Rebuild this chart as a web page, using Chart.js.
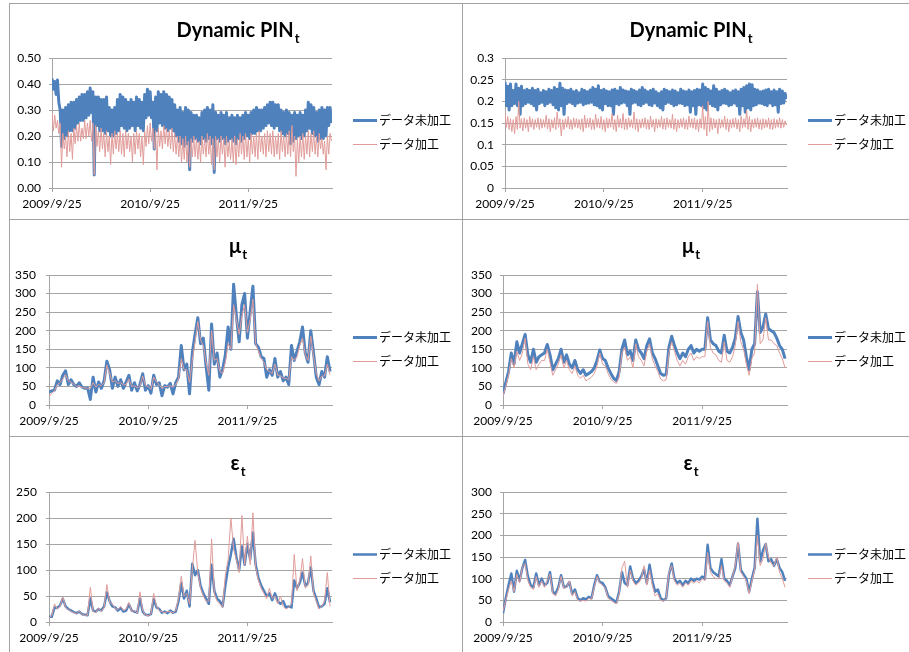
<!DOCTYPE html>
<html>
<head>
<meta charset="utf-8">
<title>Dynamic PIN / μ / ε</title>
<script src="https://cdn.jsdelivr.net/npm/chart.js@4.4.1/dist/chart.umd.min.js"></script>
<style>
  html, body { margin: 0; padding: 0; background: #fff; }
  #page { position: relative; width: 909px; height: 652px; overflow: hidden; background: #fff; }
  #page canvas { position: absolute; }
  .rule { position: absolute; background: #a3a3a3; }
</style>
</head>
<body>
<div id="page">
  <div class="rule" style="left:9px;top:3px;width:900px;height:1px"></div>
  <div class="rule" style="left:9px;top:219px;width:900px;height:1px"></div>
  <div class="rule" style="left:9px;top:436px;width:900px;height:1px"></div>
  <div class="rule" style="left:9px;top:3px;width:1px;height:649px"></div>
  <div class="rule" style="left:462px;top:3px;width:1px;height:649px"></div>
  <canvas id="pinA" width="452" height="215" style="left:10px;top:4px"></canvas>
  <canvas id="pinB" width="446" height="215" style="left:463px;top:4px"></canvas>
  <canvas id="muA"  width="452" height="216" style="left:10px;top:220px"></canvas>
  <canvas id="muB"  width="446" height="216" style="left:463px;top:220px"></canvas>
  <canvas id="epsA" width="452" height="215" style="left:10px;top:437px"></canvas>
  <canvas id="epsB" width="446" height="215" style="left:463px;top:437px"></canvas>
</div>
<script>
// Series names and year tick labels (sample step 0 = 2009/9/25, 36 steps per year)
const seriesNames = ['データ未加工', 'データ加工'];
const yearLabels = ['2009/9/25', '2010/9/25', '2011/9/25'];
const yearSteps = [0, 36, 72];
const lastStep = 102.7;

// Dynamic PIN_t, left model: the daily series swings inside each step,
// so every step keeps its high and its low reading.
const pinRawAHigh = [0.42,0.41,0.415,0.30,0.30,0.31,0.32,0.33,0.33,0.34,
  0.35,0.36,0.36,0.37,0.385,0.37,0.35,0.35,0.34,0.34,
  0.35,0.31,0.30,0.31,0.34,0.36,0.35,0.34,0.33,0.34,
  0.33,0.35,0.34,0.33,0.36,0.38,0.37,0.33,0.35,0.37,
  0.36,0.37,0.36,0.35,0.34,0.32,0.30,0.31,0.29,0.31,
  0.30,0.29,0.28,0.28,0.27,0.29,0.30,0.31,0.30,0.32,
  0.29,0.28,0.29,0.28,0.29,0.27,0.28,0.27,0.28,0.27,
  0.28,0.29,0.28,0.29,0.30,0.31,0.30,0.30,0.31,0.32,
  0.33,0.33,0.32,0.32,0.30,0.29,0.30,0.29,0.28,0.29,
  0.28,0.29,0.28,0.30,0.33,0.32,0.31,0.29,0.30,0.31,
  0.30,0.31,0.31];
const pinRawALow = [0.38,0.36,0.33,0.16,0.19,0.20,0.22,0.22,0.23,0.25,
  0.26,0.26,0.27,0.28,0.29,0.05,0.24,0.22,0.22,0.21,
  0.22,0.20,0.20,0.21,0.22,0.24,0.23,0.22,0.23,0.24,
  0.22,0.24,0.23,0.22,0.27,0.28,0.27,0.15,0.22,0.25,
  0.24,0.23,0.22,0.23,0.22,0.20,0.18,0.17,0.16,0.17,
  0.07,0.18,0.19,0.18,0.17,0.19,0.18,0.19,0.17,0.06,
  0.19,0.18,0.19,0.17,0.18,0.19,0.18,0.17,0.19,0.18,
  0.19,0.20,0.19,0.21,0.21,0.22,0.22,0.23,0.24,0.25,
  0.24,0.23,0.24,0.22,0.21,0.20,0.21,0.17,0.18,0.19,
  0.20,0.19,0.20,0.22,0.23,0.21,0.20,0.18,0.19,0.19,
  0.20,0.24,0.25];
const pinAdjAHigh = [0.29,0.28,0.26,0.25,0.21,0.20,0.22,0.21,0.23,0.24,
  0.25,0.23,0.26,0.25,0.26,0.25,0.24,0.22,0.23,0.21,
  0.22,0.20,0.21,0.22,0.21,0.22,0.21,0.22,0.21,0.20,
  0.21,0.22,0.21,0.20,0.22,0.24,0.25,0.23,0.22,0.23,
  0.22,0.24,0.23,0.22,0.23,0.21,0.20,0.20,0.19,0.20,
  0.18,0.19,0.20,0.19,0.18,0.20,0.19,0.21,0.20,0.19,
  0.20,0.19,0.20,0.19,0.20,0.18,0.19,0.20,0.19,0.21,
  0.20,0.21,0.19,0.21,0.20,0.21,0.22,0.20,0.21,0.22,
  0.21,0.22,0.20,0.21,0.22,0.20,0.21,0.22,0.24,0.20,
  0.19,0.20,0.21,0.20,0.22,0.21,0.22,0.20,0.21,0.19,
  0.18,0.20,0.21];
const pinAdjALow = [0.22,0.23,0.21,0.08,0.15,0.12,0.14,0.11,0.17,0.18,
  0.18,0.19,0.19,0.20,0.18,0.05,0.16,0.14,0.15,0.12,
  0.14,0.09,0.13,0.15,0.14,0.13,0.12,0.15,0.14,0.10,
  0.13,0.15,0.12,0.09,0.16,0.17,0.18,0.15,0.07,0.16,
  0.15,0.17,0.16,0.15,0.14,0.13,0.12,0.10,0.11,0.10,
  0.08,0.12,0.12,0.11,0.10,0.13,0.12,0.13,0.09,0.07,
  0.12,0.10,0.13,0.08,0.12,0.11,0.10,0.09,0.12,0.13,
  0.11,0.12,0.10,0.13,0.12,0.11,0.14,0.13,0.12,0.14,
  0.13,0.12,0.13,0.11,0.14,0.12,0.13,0.12,0.14,0.045,
  0.10,0.12,0.11,0.13,0.12,0.14,0.13,0.12,0.15,0.13,
  0.07,0.13,0.18];

// Dynamic PIN_t, right model
const pinRawBHigh = [0.245,0.235,0.24,0.225,0.24,0.23,0.235,0.225,0.228,0.225,
  0.23,0.225,0.228,0.22,0.225,0.222,0.228,0.225,0.232,0.228,
  0.242,0.23,0.226,0.225,0.228,0.222,0.225,0.22,0.228,0.225,
  0.222,0.226,0.232,0.228,0.236,0.225,0.228,0.224,0.222,0.226,
  0.228,0.224,0.232,0.226,0.224,0.222,0.228,0.225,0.222,0.226,
  0.232,0.226,0.222,0.225,0.228,0.222,0.218,0.222,0.228,0.225,
  0.222,0.226,0.224,0.22,0.228,0.224,0.222,0.226,0.222,0.225,
  0.228,0.226,0.24,0.232,0.228,0.224,0.236,0.228,0.222,0.225,
  0.228,0.224,0.22,0.224,0.226,0.222,0.228,0.232,0.236,0.24,
  0.238,0.228,0.226,0.222,0.224,0.226,0.228,0.222,0.226,0.222,
  0.228,0.224,0.218];
const pinRawBLow = [0.19,0.18,0.19,0.195,0.19,0.17,0.19,0.195,0.198,0.195,
  0.19,0.18,0.195,0.198,0.19,0.195,0.198,0.192,0.185,0.18,
  0.19,0.17,0.195,0.198,0.195,0.19,0.196,0.198,0.192,0.195,
  0.196,0.198,0.192,0.19,0.185,0.18,0.195,0.19,0.19,0.17,
  0.195,0.192,0.196,0.198,0.19,0.17,0.196,0.198,0.192,0.19,
  0.195,0.198,0.192,0.19,0.196,0.19,0.185,0.18,0.195,0.198,
  0.195,0.19,0.192,0.196,0.195,0.19,0.192,0.175,0.19,0.17,
  0.192,0.19,0.185,0.18,0.195,0.19,0.188,0.18,0.192,0.196,
  0.195,0.19,0.192,0.196,0.19,0.17,0.19,0.175,0.185,0.18,
  0.19,0.192,0.196,0.195,0.192,0.19,0.196,0.19,0.192,0.175,
  0.195,0.196,0.205];
const pinAdjBHigh = [0.175,0.165,0.16,0.158,0.165,0.20,0.16,0.162,0.158,0.165,
  0.16,0.158,0.162,0.16,0.158,0.168,0.16,0.158,0.162,0.175,
  0.16,0.158,0.16,0.165,0.158,0.162,0.16,0.158,0.16,0.168,
  0.16,0.162,0.158,0.17,0.16,0.165,0.158,0.162,0.16,0.172,
  0.158,0.168,0.16,0.172,0.16,0.162,0.158,0.175,0.16,0.158,
  0.16,0.162,0.158,0.166,0.158,0.16,0.158,0.165,0.16,0.162,
  0.158,0.17,0.16,0.158,0.16,0.162,0.158,0.166,0.16,0.162,
  0.158,0.16,0.19,0.165,0.20,0.162,0.16,0.158,0.16,0.158,
  0.166,0.16,0.158,0.16,0.162,0.158,0.166,0.16,0.18,0.165,
  0.158,0.16,0.162,0.158,0.16,0.158,0.162,0.158,0.16,0.158,
  0.162,0.158,0.155];
const pinAdjBLow = [0.14,0.135,0.13,0.125,0.135,0.138,0.132,0.138,0.13,0.14,
  0.135,0.14,0.135,0.138,0.14,0.136,0.13,0.138,0.135,0.14,
  0.12,0.135,0.14,0.136,0.135,0.14,0.138,0.135,0.13,0.138,
  0.14,0.135,0.135,0.14,0.138,0.135,0.13,0.138,0.14,0.135,
  0.13,0.14,0.138,0.135,0.135,0.14,0.138,0.135,0.13,0.138,
  0.14,0.136,0.135,0.14,0.13,0.138,0.14,0.136,0.135,0.14,
  0.138,0.135,0.13,0.138,0.14,0.136,0.135,0.14,0.138,0.135,
  0.13,0.138,0.135,0.12,0.13,0.135,0.138,0.125,0.138,0.14,
  0.135,0.13,0.138,0.14,0.136,0.13,0.138,0.14,0.135,0.13,
  0.138,0.14,0.136,0.135,0.138,0.14,0.136,0.135,0.138,0.14,
  0.138,0.14,0.145];

// μ_t, left model
const muRawA = [35,38,40,65,55,80,92,55,68,55,
  50,60,48,45,46,15,75,35,62,45,
  65,118,95,45,75,50,68,45,62,80,
  40,60,38,55,84,40,52,32,80,55,
  60,25,52,48,58,30,60,75,160,95,
  110,30,140,190,235,165,180,105,40,218,
  110,140,75,95,135,210,150,325,240,170,
  270,300,180,250,320,165,155,130,125,75,
  95,80,125,75,90,65,75,55,160,120,
  145,170,210,140,115,200,140,75,55,90,
  75,130,90];
const muAdjA = [22,32,38,55,60,70,82,65,62,56,
  50,52,47,46,45,45,60,48,55,52,
  60,108,85,62,65,58,60,54,56,70,
  50,52,46,50,78,52,50,42,75,62,
  55,45,50,50,52,48,55,70,125,95,
  95,60,120,170,225,175,160,115,80,200,
  120,125,90,85,115,165,150,270,230,190,
  240,270,195,230,285,165,145,125,115,95,
  90,85,110,80,80,72,72,68,130,120,
  130,160,180,135,120,185,130,85,65,78,
  78,110,82];

// μ_t, right model
const muRawB = [30,60,90,140,110,170,140,165,190,135,
  115,150,115,130,135,140,163,135,95,110,
  125,150,115,135,110,100,120,95,85,95,
  80,85,90,100,120,148,125,120,100,85,
  72,66,90,150,175,135,145,120,175,150,
  140,125,160,178,140,125,105,85,80,82,
  155,185,160,140,125,140,130,150,160,140,
  150,145,150,150,235,175,165,160,145,140,
  188,145,140,155,180,238,195,175,130,95,
  150,165,305,195,210,245,205,200,195,180,
  160,150,125];
const muAdjB = [25,50,80,125,100,145,120,140,180,110,
  95,130,95,110,120,120,150,115,80,95,
  110,135,100,120,95,85,105,80,72,80,
  65,70,75,85,105,140,110,105,85,70,
  62,58,75,140,155,120,130,100,165,130,
  120,105,145,165,125,105,90,70,65,68,
  140,170,145,120,105,120,110,130,140,120,
  130,125,130,130,225,155,140,135,120,115,
  170,120,115,130,160,225,170,150,110,80,
  125,140,325,165,175,235,175,175,165,160,
  140,125,100];

// ε_t, left model
const epsRawA = [10,10,28,27,32,45,30,25,22,19,
  17,20,15,14,13,45,22,20,25,22,
  30,57,40,30,28,22,27,20,22,34,
  22,20,18,45,20,14,13,15,44,28,
  25,18,20,17,22,18,20,40,75,45,
  60,30,112,90,100,70,55,45,35,110,
  60,45,40,30,70,105,130,160,125,100,
  145,110,150,120,172,110,85,70,60,50,
  55,42,55,40,35,40,28,30,28,80,
  65,75,95,70,75,105,60,45,28,30,
  35,65,38];
const epsAdjA = [8,12,35,25,30,48,28,24,20,18,
  16,21,14,13,13,67,20,18,27,20,
  28,72,38,35,26,24,30,22,25,38,
  20,22,17,58,22,13,12,15,55,30,
  22,20,18,20,20,18,22,45,88,50,
  55,35,100,157,95,65,50,40,40,160,
  55,40,35,28,90,120,200,140,120,95,
  205,110,165,110,210,105,80,65,55,45,
  65,45,50,35,50,30,25,28,35,130,
  60,80,122,65,70,127,55,40,25,30,
  40,95,30];

// ε_t, right model
const epsRawB = [20,55,85,112,70,118,95,125,143,105,
  85,80,112,85,100,85,90,115,70,65,
  80,108,80,82,92,65,75,55,50,55,
  52,58,55,85,108,92,90,80,60,55,
  50,45,70,115,90,85,128,100,90,95,
  105,122,90,132,95,70,75,55,50,55,
  110,135,100,90,95,85,95,90,100,95,
  100,98,105,100,178,125,115,110,105,145,
  100,95,85,105,125,180,120,110,100,70,
  100,125,238,140,165,180,140,145,130,145,
  125,115,95];
const epsAdjB = [25,50,75,95,70,110,90,128,135,95,
  80,75,105,80,95,80,95,110,65,60,
  75,105,78,80,95,60,70,50,48,50,
  48,55,52,80,105,90,85,78,55,50,
  45,42,65,125,140,80,120,95,85,90,
  100,130,85,120,85,60,65,50,48,55,
  115,130,95,85,90,80,90,85,95,90,
  95,90,100,95,160,115,105,100,100,130,
  95,90,80,105,130,185,115,105,95,65,
  95,120,200,130,145,182,150,135,130,150,
  115,100,80];

const BLUE = '#4F81BD';
const PINK = '#E09C9A';
const GRID = '#A5A5A5';
const BASE_FONT = 'Lato, "Noto Sans", "Noto Sans CJK JP", sans-serif';
const TITLE_FONT = 'bold 20px ' + BASE_FONT;
const SUB_FONT = 'bold 13px ' + BASE_FONT;
const LEGEND_FONT = '12px "Noto Sans CJK JP", sans-serif';

Chart.defaults.font.family = BASE_FONT;
Chart.defaults.font.size = 12;
Chart.defaults.color = '#000';

// one point per step
const stepPoints = vals => vals.map((y, i) => ({ x: i, y }));
// high reading at the start of each step, low reading half a step later
const swingPoints = (high, low) => high.flatMap((h, i) => [{ x: i, y: h }, { x: i + 0.5, y: low[i] }]);

// Chart title with subscript, plus a line-sample legend to the right of the plot
const panelDecor = {
  id: 'panelDecor',
  afterDraw(chart, _args, o) {
    const { ctx, chartArea: a } = chart;
    ctx.save();
    ctx.fillStyle = '#000';
    ctx.textAlign = 'left';
    ctx.textBaseline = 'alphabetic';
    ctx.font = TITLE_FONT;
    const w1 = ctx.measureText(o.title).width;
    ctx.font = SUB_FONT;
    const w2 = ctx.measureText(o.sub).width;
    const x0 = o.cx - (w1 + w2) / 2;
    ctx.font = TITLE_FONT;
    ctx.fillText(o.title, x0, o.base);
    ctx.font = SUB_FONT;
    ctx.fillText(o.sub, x0 + w1 + 1, o.base + 6);

    const mid = (a.top + a.bottom) / 2;
    ctx.font = LEGEND_FONT;
    ctx.textBaseline = 'middle';
    chart.data.datasets.forEach((ds, k) => {
      const y = Math.round(mid + (k === 0 ? -3 : 20.5)) + (ds.borderWidth % 2 ? 0.5 : 0);
      ctx.beginPath();
      ctx.moveTo(a.right + 21, y);
      ctx.lineTo(a.right + 45, y);
      ctx.strokeStyle = ds.borderColor;
      ctx.lineWidth = ds.borderWidth;
      ctx.stroke();
      ctx.fillStyle = '#000';
      ctx.fillText(ds.label, a.right + 47, y);
    });
    ctx.restore();
  }
};

function makePanel(id, p) {
  return new Chart(document.getElementById(id), {
    type: 'line',
    data: {
      datasets: [
        { label: seriesNames[0], data: p.raw, borderColor: BLUE, borderWidth: p.rawWidth, order: 1 },
        { label: seriesNames[1], data: p.adj, borderColor: PINK, borderWidth: 1, order: 0 }
      ]
    },
    options: {
      responsive: false,
      devicePixelRatio: 1,
      animation: false,
      events: [],
      elements: { point: { radius: 0 }, line: { tension: 0, fill: false, borderJoinStyle: 'round' } },
      layout: { padding: { left: 0, top: p.top, right: p.right, bottom: 0 } },
      plugins: {
        legend: { display: false },
        tooltip: { enabled: false },
        panelDecor: { title: p.title, sub: 't', cx: 227.5, base: 33 }
      },
      scales: {
        x: {
          type: 'linear',
          min: 0,
          max: lastStep,
          afterBuildTicks: s => { s.ticks = yearSteps.map(v => ({ value: v })); },
          afterFit: s => { s.height = p.xh; },
          ticks: {
            autoSkip: false, maxRotation: 0, padding: 5,
            callback: v => yearLabels[yearSteps.indexOf(v)] ?? ''
          },
          grid: { drawOnChartArea: false, drawTicks: true, tickLength: 4, color: GRID },
          border: { color: GRID }
        },
        y: {
          min: 0,
          max: p.max,
          afterFit: s => { s.width = p.yw; },
          ticks: { stepSize: p.step, padding: p.ypad, callback: p.fmt },
          grid: { color: GRID, tickLength: 3 },
          border: { color: GRID }
        }
      }
    },
    plugins: [panelDecor]
  });
}

const plain = v => String(Number(v.toFixed(2)));

makePanel('pinA', { title: 'Dynamic PIN', rawWidth: 3,
  raw: swingPoints(pinRawAHigh, pinRawALow), adj: swingPoints(pinAdjAHigh, pinAdjALow),
  max: 0.5, step: 0.1, fmt: v => v.toFixed(2), yw: 42, ypad: 8, top: 54, right: 130, xh: 31 });
makePanel('pinB', { title: 'Dynamic PIN', rawWidth: 3,
  raw: swingPoints(pinRawBHigh, pinRawBLow), adj: swingPoints(pinAdjBHigh, pinAdjBLow),
  max: 0.3, step: 0.05, fmt: plain, yw: 42, ypad: 8, top: 54, right: 122, xh: 31 });
makePanel('muA', { title: 'μ', rawWidth: 3, raw: stepPoints(muRawA), adj: stepPoints(muAdjA),
  max: 350, step: 50, fmt: plain, yw: 39, ypad: 10, top: 55, right: 130, xh: 31 });
makePanel('muB', { title: 'μ', rawWidth: 3, raw: stepPoints(muRawB), adj: stepPoints(muAdjB),
  max: 350, step: 50, fmt: plain, yw: 40, ypad: 8, top: 55, right: 122, xh: 31 });
makePanel('epsA', { title: 'ε', rawWidth: 2.5, raw: stepPoints(epsRawA), adj: stepPoints(epsAdjA),
  max: 250, step: 50, fmt: plain, yw: 39, ypad: 9, top: 55, right: 130, xh: 30 });
makePanel('epsB', { title: 'ε', rawWidth: 2.5, raw: stepPoints(epsRawB), adj: stepPoints(epsAdjB),
  max: 300, step: 50, fmt: plain, yw: 40, ypad: 8, top: 55, right: 122, xh: 30 });
</script>
</body>
</html>
